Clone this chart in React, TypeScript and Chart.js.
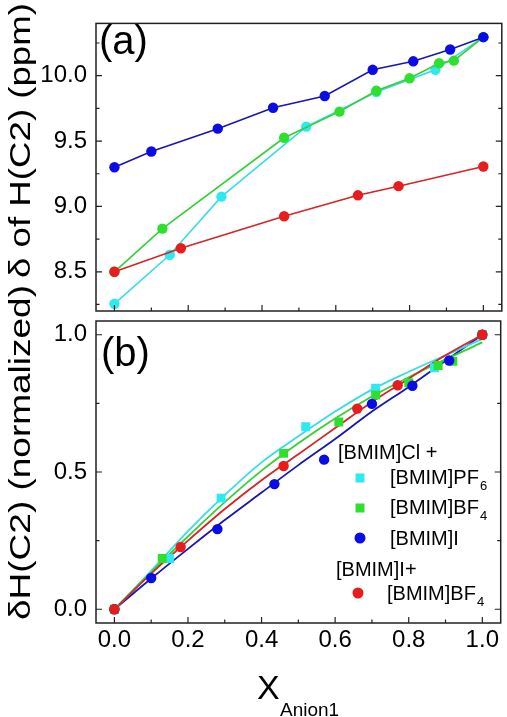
import React, { useEffect, useRef } from "react";
import { Chart, registerables } from "chart.js";

Chart.register(...registerables);

// ---------- data ----------
// panel (a): chemical shift of H(C2), ppm
const xBlueA = [0, 0.1, 0.28, 0.43, 0.57, 0.7, 0.81, 0.91, 1.0];
const yBlueA = [9.3, 9.42, 9.595, 9.755, 9.845, 10.045, 10.11, 10.2, 10.295];
const xGreenA = [0, 0.13, 0.46, 0.61, 0.71, 0.8, 0.88, 0.92, 1.0];
const yGreenA = [8.5, 8.83, 9.525, 9.725, 9.885, 9.98, 10.095, 10.115, 10.295];
const xCyanA = [0, 0.15, 0.29, 0.52, 0.71, 0.87, 1.0];
const yCyanA = [8.255, 8.63, 9.075, 9.61, 9.875, 10.045, 10.295];
const xRedA = [0, 0.18, 0.46, 0.66, 0.77, 1.0];
const yRedA = [8.5, 8.68, 8.925, 9.085, 9.155, 9.305];

// panel (b): normalized shift
const xCyanB = [0, 0.15, 0.29, 0.52, 0.71, 0.87, 1.0];
const yCyanB = [0, 0.185, 0.405, 0.665, 0.805, 0.88, 1.0];
const xGreenB = [0, 0.13, 0.46, 0.61, 0.71, 0.8, 0.88, 0.92, 1.0];
const yGreenB = [0, 0.185, 0.568, 0.682, 0.78, 0.825, 0.888, 0.903, 1.0];
const xBlueB = [0, 0.1, 0.28, 0.435, 0.57, 0.7, 0.81, 0.91, 1.0];
const yBlueB = [0, 0.114, 0.292, 0.456, 0.545, 0.748, 0.814, 0.906, 1.0];
const xRedB = [0, 0.18, 0.46, 0.66, 0.77, 1.0];
const yRedB = [0, 0.227, 0.522, 0.731, 0.816, 1.0];

// fitted curves in panel (b)
const xFit = [0, 0.1, 0.2, 0.3, 0.4, 0.5, 0.6, 0.7, 0.8, 0.9, 1.0];
const yCyanFit = [0, 0.14, 0.285, 0.416, 0.535, 0.63, 0.72, 0.8, 0.865, 0.925, 0.985];
const yGreenFit = [0, 0.135, 0.265, 0.39, 0.505, 0.605, 0.695, 0.775, 0.845, 0.91, 0.972];
const yRedFit = [0, 0.13, 0.25, 0.365, 0.47, 0.565, 0.66, 0.755, 0.84, 0.925, 1.0];
const yBlueFit = [0, 0.112, 0.22, 0.325, 0.425, 0.525, 0.62, 0.72, 0.81, 0.905, 1.0];

// axes
const xMajor = [0, 0.2, 0.4, 0.6, 0.8, 1.0];
const xMinor = [0.1, 0.3, 0.5, 0.7, 0.9];
const xTickLabels = ["0.0", "0.2", "0.4", "0.6", "0.8", "1.0"];
const yMajorA = [8.5, 9.0, 9.5, 10.0];
const yMinorA = [8.25, 8.75, 9.25, 9.75, 10.25];
const yTickLabelsA = ["8.5", "9.0", "9.5", "10.0"];
const yMajorB = [0, 0.5, 1.0];
const yMinorB = [0.25, 0.75];
const yTickLabelsB = ["0.0", "0.5", "1.0"];

// texts
const titleYA = "δ of H(C2) (ppm)";
const titleYB = "δH(C2) (normalized)";
const titleXMain = "X";
const titleXSub = "Anion1";
const panelA = "(a)";
const panelB = "(b)";
const legendHead1 = "[BMIM]Cl +";
const legendHead2 = "[BMIM]I+";
const legendMain = ["[BMIM]PF", "[BMIM]BF", "[BMIM]I", "[BMIM]BF"];
const legendSub = ["6", "4", "", "4"];

// ---------- styles ----------
const FONT = '"Liberation Sans", Arial, Helvetica, sans-serif';
const BLUE = "#0b0be6";
const BLUE_LINE = "#1818b0";
const GREEN = "#2ee02e";
const GREEN_LINE = "#34d034";
const CYAN = "#2ee8f2";
const CYAN_LINE = "#36dce8";
const RED = "#e81c1c";
const RED_LINE = "#d82424";

const pts = (xs: number[], ys: number[]) => xs.map((x, i) => ({ x, y: ys[i] }));

function lineSet(xs: number[], ys: number[], pc: string, lc: string) {
  return {
    data: pts(xs, ys),
    showLine: true,
    borderColor: lc,
    borderWidth: 1.6,
    pointRadius: 5.2,
    pointBackgroundColor: pc,
    pointBorderWidth: 0,
    pointBorderColor: pc,
    tension: 0,
  };
}
function pointSet(xs: number[], ys: number[], c: string, style: string, r: number) {
  return {
    data: pts(xs, ys),
    showLine: false,
    pointStyle: style,
    pointRadius: r,
    pointBackgroundColor: c,
    pointBorderColor: c,
    pointBorderWidth: 0,
    borderColor: c,
  };
}
function fitSet(xs: number[], ys: number[], c: string) {
  return {
    data: pts(xs, ys),
    showLine: true,
    borderColor: c,
    borderWidth: 1.8,
    pointRadius: 0,
    cubicInterpolationMode: "monotone",
  };
}

function drawRotated(ctx: CanvasRenderingContext2D, text: string, cx: number, cy: number, size: number, len: number) {
  ctx.save();
  ctx.font = `${size}px ${FONT}`;
  const w = ctx.measureText(text).width;
  ctx.translate(cx, cy);
  ctx.rotate(-Math.PI / 2);
  ctx.scale(len / w, 1);
  ctx.textAlign = "center";
  ctx.textBaseline = "middle";
  ctx.fillStyle = "#000";
  ctx.fillText(text, 0, 0);
  ctx.restore();
}

const decorPlugin = {
  id: "decor",
  afterDatasetsDraw(chart: any, _args: any, opts: any) {
    const ctx: CanvasRenderingContext2D = chart.ctx;
    const { left, right, top, bottom } = chart.chartArea;
    const xs = chart.scales.x;
    const ys = chart.scales.y;
    ctx.save();
    ctx.strokeStyle = "#222";
    ctx.lineWidth = 1.5;
    ctx.strokeRect(left, top, right - left, bottom - top);
    ctx.lineWidth = 1.2;
    ctx.beginPath();
    const tick = (vals: number[], len: number) => {
      for (const v of vals) {
        const px = xs.getPixelForValue(v);
        ctx.moveTo(px, bottom);
        ctx.lineTo(px, bottom - len);
      }
    };
    tick(xMajor, 6);
    tick(xMinor, 3.5);
    const ytick = (vals: number[], len: number) => {
      for (const v of vals) {
        const py = ys.getPixelForValue(v);
        ctx.moveTo(left, py);
        ctx.lineTo(left + len, py);
        ctx.moveTo(right, py);
        ctx.lineTo(right - len, py);
      }
    };
    ytick(opts.yMajor, 6);
    ytick(opts.yMinor, 3.5);
    ctx.stroke();

    // panel label
    ctx.fillStyle = "#000";
    ctx.font = `40px ${FONT}`;
    ctx.textAlign = "left";
    ctx.textBaseline = "alphabetic";
    ctx.fillText(opts.panel, opts.panelX, opts.panelY);

    // y title
    drawRotated(ctx, opts.title, 21.5, opts.titleY, 29, opts.titleLen);

    if (opts.legend) {
      ctx.font = `20px ${FONT}`;
      ctx.fillStyle = "#000";
      ctx.fillText(legendHead1, 338, 459);
      ctx.fillText(legendHead2, 336, 576);
      const rows = [
        { mk: "rect", c: CYAN, cx: 360, cy: 478, tx: 390, ty: 484 },
        { mk: "rect", c: GREEN, cx: 360, cy: 508, tx: 390, ty: 514 },
        { mk: "circle", c: BLUE, cx: 360, cy: 538, tx: 390, ty: 545 },
        { mk: "circle", c: RED, cx: 358, cy: 593, tx: 387, ty: 600 },
      ];
      rows.forEach((r, i) => {
        ctx.fillStyle = r.c;
        if (r.mk === "rect") {
          ctx.fillRect(r.cx - 4.5, r.cy - 4.5, 9, 9);
        } else {
          ctx.beginPath();
          ctx.arc(r.cx, r.cy, 5.5, 0, Math.PI * 2);
          ctx.fill();
        }
        ctx.fillStyle = "#000";
        ctx.font = `20px ${FONT}`;
        ctx.fillText(legendMain[i], r.tx, r.ty);
        const w = ctx.measureText(legendMain[i]).width;
        if (legendSub[i]) {
          ctx.font = `13px ${FONT}`;
          ctx.fillText(legendSub[i], r.tx + w + 1, r.ty + 6);
        }
      });
    }

    if (opts.xTitle) {
      ctx.fillStyle = "#000";
      ctx.font = `34px ${FONT}`;
      ctx.fillText(titleXMain, 257, 699);
      ctx.font = `19px ${FONT}`;
      ctx.fillText(titleXSub, 280, 716);
    }
    ctx.restore();
  },
};

function yScale(min: number, max: number, major: number[], labels: string[]) {
  return {
    type: "linear",
    min,
    max,
    afterFit: (s: any) => {
      s.width = 96;
    },
    afterBuildTicks: (s: any) => {
      s.ticks = major.map((v) => ({ value: v }));
    },
    ticks: {
      padding: 9,
      color: "#000",
      font: { family: FONT, size: 24 },
      callback: (_v: any, i: number) => labels[i],
    },
    grid: { display: false, drawTicks: false },
    border: { display: false },
  };
}

export default function App() {
  const refA = useRef<HTMLCanvasElement>(null);
  const refB = useRef<HTMLCanvasElement>(null);

  useEffect(() => {
    const chartA = new Chart(refA.current as HTMLCanvasElement, {
      type: "line",
      data: {
        datasets: [
          lineSet(xBlueA, yBlueA, BLUE, BLUE_LINE),
          lineSet(xRedA, yRedA, RED, RED_LINE),
          lineSet(xGreenA, yGreenA, GREEN, GREEN_LINE),
          lineSet(xCyanA, yCyanA, CYAN, CYAN_LINE),
        ] as any,
      },
      options: {
        responsive: false,
        animation: false,
        events: [],
        layout: { padding: { top: 11, right: 4, bottom: 406, left: 0 } },
        plugins: {
          legend: { display: false },
          tooltip: { enabled: false },
          decor: {
            yMajor: yMajorA,
            yMinor: yMinorA,
            panel: panelA,
            panelX: 99,
            panelY: 54,
            title: titleYA,
            titleY: 140.5,
            titleLen: 275,
            legend: false,
            xTitle: false,
          },
        } as any,
        scales: {
          x: { type: "linear", min: -0.05, max: 1.05, display: false },
          y: yScale(8.2, 10.4, yMajorA, yTickLabelsA),
        } as any,
      },
      plugins: [decorPlugin],
    });

    const chartB = new Chart(refB.current as HTMLCanvasElement, {
      type: "line",
      data: {
        datasets: [
          pointSet(xRedB, yRedB, RED, "circle", 5.2),
          pointSet(xBlueB, yBlueB, BLUE, "circle", 5.2),
          pointSet(xGreenB, yGreenB, GREEN, "rect", 6.3),
          pointSet(xCyanB, yCyanB, CYAN, "rect", 6.3),
          fitSet(xFit, yRedFit, RED_LINE),
          fitSet(xFit, yGreenFit, GREEN_LINE),
          fitSet(xFit, yCyanFit, CYAN_LINE),
          fitSet(xFit, yBlueFit, BLUE_LINE),
        ] as any,
      },
      options: {
        responsive: false,
        animation: false,
        events: [],
        layout: { padding: { top: 321, right: 4, bottom: 0, left: 0 } },
        plugins: {
          legend: { display: false },
          tooltip: { enabled: false },
          decor: {
            yMajor: yMajorB,
            yMinor: yMinorB,
            panel: panelB,
            panelX: 101,
            panelY: 366,
            title: titleYB,
            titleY: 452.5,
            titleLen: 335,
            legend: true,
            xTitle: true,
          },
        } as any,
        scales: {
          x: {
            type: "linear",
            min: -0.05,
            max: 1.05,
            afterFit: (s: any) => {
              s.height = 94;
            },
            afterBuildTicks: (s: any) => {
              s.ticks = xMajor.map((v) => ({ value: v }));
            },
            ticks: {
              padding: 3,
              color: "#000",
              maxRotation: 0,
              autoSkip: false,
              font: { family: FONT, size: 24 },
              callback: (_v: any, i: number) => xTickLabels[i],
            },
            grid: { display: false, drawTicks: false },
            border: { display: false },
          },
          y: yScale(-0.05, 1.05, yMajorB, yTickLabelsB),
        } as any,
      },
      plugins: [decorPlugin],
    });

    return () => {
      chartA.destroy();
      chartB.destroy();
    };
  }, []);

  return (
    <div style={{ position: "fixed", left: 0, top: 0, width: 507, height: 717, background: "#fff" }}>
      <canvas ref={refA} width={507} height={717} style={{ position: "absolute", left: 0, top: 0 }} />
      <canvas ref={refB} width={507} height={717} style={{ position: "absolute", left: 0, top: 0 }} />
    </div>
  );
}
